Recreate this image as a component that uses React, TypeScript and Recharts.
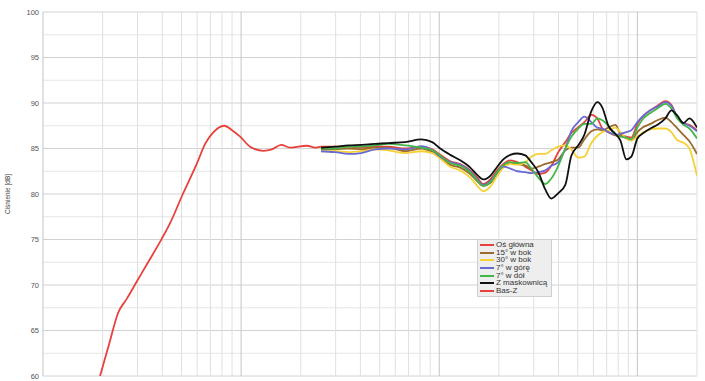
import React from 'react';
import { LineChart, Line, XAxis, YAxis, ReferenceLine, Legend } from 'recharts';

// Bass (Bas-Z) curve
const bassFreq = [19.4, 21.5, 23.9, 26.5, 29.7, 33.4, 39.8, 43.8, 50.8, 59.7, 65.8, 72.5, 82.1, 91.4, 98.9, 111, 129.6, 142.9, 159.2, 176.8, 214.7, 236.4];
const bassZ = [60.0, 63.4, 66.9, 68.5, 70.35, 72.25, 75.1, 76.8, 80.0, 83.3, 85.5, 86.8, 87.5, 86.9, 86.3, 85.2, 84.75, 84.9, 85.4, 85.1, 85.3, 85.1];

// Measurement frequencies (Hz)
const freq = [253, 298, 347, 404, 475, 553, 673, 811, 922, 1012, 1137, 1276, 1434, 1555, 1668, 1810, 1963, 2105, 2284, 2477, 2719, 2915, 3162, 3430, 3679, 3990, 4329, 4642, 5035, 5399, 5858, 6283, 6657, 7138, 7743, 8206, 8800, 9326, 10000, 10723, 11634, 12618, 13850, 14850, 15920, 17080, 18310, 20000];

const osGlowna = [85.2, 85.2, 85.2, 85.1, 85.2, 85.2, 85.0, 85.2, 84.9, 84.3, 83.6, 83.3, 82.6, 81.8, 81.1, 81.6, 82.6, 83.3, 83.7, 83.5, 83.0, 82.6, 82.2, 82.35, 83.1, 84.6, 85.7, 86.7, 87.35, 87.9, 88.7, 88.3, 87.2, 86.8, 86.45, 86.4, 86.3, 86.2, 87.7, 88.6, 89.2, 89.7, 90.2, 89.8, 88.4, 87.8, 87.6, 87.0];
const bok15 = [84.9, 84.9, 85.0, 84.9, 85.1, 85.1, 84.7, 85.0, 84.6, 84.0, 83.2, 82.9, 82.2, 81.4, 80.9, 81.2, 82.3, 83.0, 83.4, 83.3, 83.15, 82.8, 83.0, 83.3, 83.5, 83.8, 84.8, 85.1, 85.1, 86.0, 86.9, 87.1, 87.0, 87.3, 87.6, 86.6, 86.1, 85.9, 86.8, 87.35, 87.7, 88.1, 88.4, 87.9, 87.2, 86.5, 85.8, 84.4];
const bok30 = [84.7, 84.7, 84.6, 84.7, 84.9, 84.8, 84.5, 84.7, 84.5, 83.9, 83.0, 82.6, 81.8, 80.9, 80.3, 80.8, 82.0, 82.9, 83.3, 83.2, 83.5, 84.1, 84.4, 84.4, 84.8, 85.2, 85.35, 84.9, 84.0, 84.1, 85.6, 86.4, 86.8, 87.0, 87.3, 86.8, 86.1, 85.9, 86.3, 86.8, 87.1, 87.2, 87.2, 86.8, 85.9, 85.65, 85.0, 82.0];
const gora7 = [84.7, 84.6, 84.4, 84.5, 84.9, 85.0, 84.9, 85.25, 84.8, 84.1, 83.5, 83.2, 82.5, 81.6, 81.0, 81.4, 82.4, 83.0, 82.8, 82.5, 82.4, 82.3, 82.4, 82.6, 83.1, 83.5, 85.0, 86.9, 87.9, 88.5, 87.9, 87.3, 87.2, 86.8, 86.5, 86.6, 86.8, 87.0, 87.9, 88.6, 89.2, 89.6, 90.1, 89.7, 88.4, 87.8, 87.5, 86.9];
const dol7 = [85.0, 85.0, 85.2, 85.2, 85.35, 85.5, 85.35, 85.1, 84.8, 84.2, 83.4, 83.1, 82.4, 81.5, 80.9, 81.3, 82.4, 83.2, 83.5, 83.4, 83.5, 82.8, 81.8, 81.1, 81.7, 83.1, 85.0, 86.3, 87.2, 87.7, 87.7, 88.3, 88.1, 87.5, 86.5, 86.3, 86.2, 86.0, 87.3, 88.3, 88.9, 89.4, 89.9, 89.4, 88.3, 87.6, 87.2, 86.1];
const maskownica = [85.1, 85.2, 85.35, 85.4, 85.5, 85.6, 85.7, 86.0, 85.7, 85.0, 84.3, 83.7, 82.9, 82.1, 81.6, 82.0, 83.0, 83.8, 84.3, 84.45, 84.25, 83.5, 82.4, 80.5, 79.5, 80.1, 81.0, 84.2, 85.35, 86.5, 89.1, 90.1, 89.5, 87.5, 86.6, 85.9, 83.8, 84.1, 86.1, 86.7, 87.2, 87.6, 88.3, 89.2, 88.6, 87.8, 88.3, 87.3];

const yTicks = [60, 65, 70, 75, 80, 85, 90, 95, 100];
const yMinor = [62.5, 67.5, 72.5, 77.5, 82.5, 87.5, 92.5, 97.5];
const xMajor = [10, 100, 1000, 10000];
const xMinor = [20, 30, 40, 50, 60, 70, 80, 90, 200, 300, 400, 500, 600, 700, 800, 900, 2000, 3000, 4000, 5000, 6000, 7000, 8000, 9000, 20000];

const series = [
  { key: 'os', name: 'Oś główna', color: '#e8413b' },
  { key: 'b15', name: '15° w bok', color: '#9c6a2c' },
  { key: 'b30', name: '30° w bok', color: '#f6d135' },
  { key: 'up', name: '7° w górę', color: '#6a6ad4' },
  { key: 'down', name: '7° w dół', color: '#43b649' },
  { key: 'mask', name: 'Z maskownicą', color: '#111111' },
  { key: 'bass', name: 'Bas-Z', color: '#e8413b' },
];

const data: any[] = [];
bassFreq.forEach((f, i) => data.push({ f, bass: bassZ[i] }));
freq.forEach((f, i) => {
  const row: any = {
    f,
    os: osGlowna[i],
    b15: bok15[i],
    b30: bok30[i],
    up: gora7[i],
    down: dol7[i],
    mask: maskownica[i],
  };
  if (i === 0) row.bass = 85.2;
  data.push(row);
});

const FONT = '"Liberation Sans", Arial, sans-serif';

const renderLegend = (props: any) => {
  const payload = props.payload || [];
  const ordered = series.map((s) => {
    const p = payload.find((q: any) => q.dataKey === s.key || q.value === s.name);
    return { value: s.name, color: p ? p.color : s.color };
  });
  return (
    <div
      style={{
        background: '#eeeeee',
        border: '1px solid #d0d0d0',
        padding: '1px 4px 1px 2px',
        fontFamily: FONT,
        fontSize: 8,
        color: '#333',
        lineHeight: '7.7px',
      }}
    >
      {ordered.map((p: any, i: number) => (
        <div key={i} style={{ display: 'flex', alignItems: 'center', height: 7.7, whiteSpace: 'nowrap' }}>
          <span style={{ display: 'inline-block', width: 14, height: 2, background: p.color, marginRight: 2 }} />
          <span>{p.value}</span>
        </div>
      ))}
    </div>
  );
};

export default function App() {
  return (
    <div style={{ position: 'absolute', left: 0, top: 0, width: 705, height: 381, background: '#fff' }}>
      <LineChart width={705} height={381} data={data} margin={{ top: 12, right: 8, bottom: 5, left: 0 }}>
        <XAxis type="number" dataKey="f" scale="log" domain={[10, 20000]} hide allowDataOverflow />
        <YAxis
          type="number"
          domain={[60, 100]}
          ticks={yTicks}
          width={43}
          tickLine={false}
          axisLine={false}
          tickSize={2}
          tickMargin={2}
          tick={{ fontSize: 7.5, fill: '#555', fontFamily: FONT }}
          label={{
            value: 'Ciśnienie [dB]',
            angle: -90,
            position: 'insideLeft',
            offset: 8,
            style: { textAnchor: 'middle', fontSize: 6.5, fill: '#444', fontFamily: FONT },
          }}
          allowDataOverflow
        />
        {yMinor.map((v) => (
          <ReferenceLine key={'ym' + v} y={v} stroke="#e6e6e6" strokeWidth={1} />
        ))}
        {yTicks.map((v) => (
          <ReferenceLine key={'yM' + v} y={v} stroke="#d2d2d2" strokeWidth={1} />
        ))}
        {xMinor.map((v) => (
          <ReferenceLine key={'xm' + v} x={v} stroke="#e0e0e0" strokeWidth={1} />
        ))}
        {xMajor.map((v) => (
          <ReferenceLine key={'xM' + v} x={v} stroke="#c4c4c4" strokeWidth={1} />
        ))}
        <Legend
          layout="vertical"
          align="center"
          verticalAlign="middle"
          content={renderLegend}
          wrapperStyle={{ left: 477, top: 239, width: 'auto', right: 'auto', bottom: 'auto' }}
        />
        {series.map((s) => (
          <Line
            key={s.key}
            dataKey={s.key}
            name={s.name}
            type="monotone"
            stroke={s.color}
            strokeWidth={1.8}
            dot={false}
            isAnimationActive={false}
          />
        ))}
      </LineChart>
    </div>
  );
}
